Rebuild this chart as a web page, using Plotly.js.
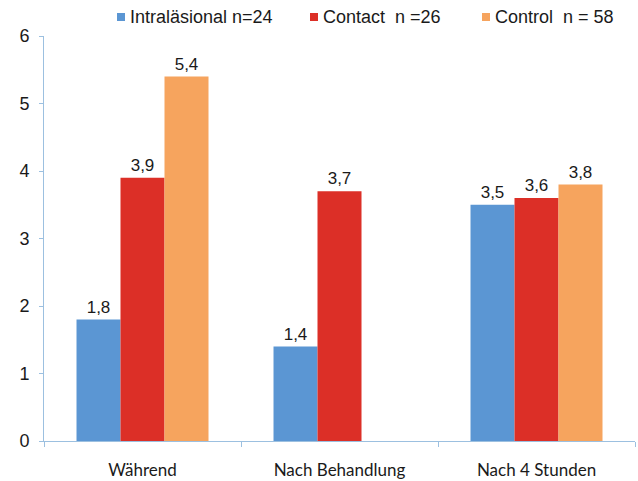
<!DOCTYPE html>
<html>
<head>
<meta charset="utf-8">
<script src="https://cdn.plot.ly/plotly-3.0.1.min.js"></script>
<style>html,body{margin:0;padding:0;background:#fff;}#chart{width:638px;height:481px;}</style>
</head>
<body>
<div id="chart"></div>
<script>
var categories = ["Während", "Nach Behandlung", "Nach 4 Stunden"];
var seriesNames = ["Intraläsional n=24", "Contact  n =26", "Control  n = 58"];
var intralaesional = [1.8, 1.4, 3.5];
var contact = [3.9, 3.7, 3.6];
var control = [5.4, null, 3.8];
var yTicks = [0, 1, 2, 3, 4, 5, 6];

var colors = ["#5b96d3", "#dc2f27", "#f6a45e"];
var values = [intralaesional, contact, control];

var W = 638, H = 481;
var M = { l: 44, r: 3, t: 36, b: 40 };
var plotW = W - M.l - M.r, plotH = H - M.t - M.b;
function px2x(p) { return (p - M.l) / plotW; }
function py2y(p) { return (H - M.b - p) / plotH; }

var traces = values.map(function (v, i) {
  return {
    type: "bar",
    name: seriesNames[i],
    x: categories,
    y: v,
    marker: { color: colors[i], line: { width: 0 } },
    texttemplate: "%{y:.1f}",
    textposition: "outside",
    textfont: { family: "Liberation Sans, Arial, sans-serif", size: 17, color: "#1a1a1a" },
    cliponaxis: false,
    hoverinfo: "skip",
    showlegend: false
  };
});

// custom legend (small square markers like the original)
var legendSquareLeft = [117, 310, 482];
var legendCenterY = 17;
var shapes = [], annotations = [];
seriesNames.forEach(function (name, i) {
  var x0 = legendSquareLeft[i];
  shapes.push({
    type: "rect", xref: "paper", yref: "paper",
    x0: px2x(x0), x1: px2x(x0 + 8),
    y0: py2y(legendCenterY + 4), y1: py2y(legendCenterY - 4),
    fillcolor: colors[i], line: { width: 0 }
  });
  annotations.push({
    xref: "paper", yref: "paper",
    x: px2x(x0 + 11), y: py2y(legendCenterY),
    xanchor: "left", yanchor: "middle",
    text: name.replace(/  /g, "&nbsp; "),
    showarrow: false,
    font: { family: "Liberation Sans, Arial, sans-serif", size: 18, color: "#1a1a1a" }
  });
});

var layout = {
  width: W,
  height: H,
  margin: M,
  paper_bgcolor: "#fff",
  plot_bgcolor: "#fff",
  separators: ",.",
  barmode: "group",
  bargap: 0.33,
  bargroupgap: 0,
  showlegend: false,
  shapes: shapes,
  annotations: annotations,
  xaxis: {
    type: "category",
    showline: true,
    linecolor: "#9cc0e0",
    linewidth: 1,
    ticks: "outside",
    tickson: "boundaries",
    ticklen: 5,
    tickcolor: "#9cc0e0",
    showgrid: false,
    ticklabelstandoff: 14,
    tickfont: { family: "Lato, Open Sans, sans-serif", size: 17, color: "#1a1a1a" }
  },
  yaxis: {
    range: [0, 6],
    tickvals: yTicks,
    showline: true,
    linecolor: "#9cc0e0",
    linewidth: 1,
    ticks: "outside",
    ticklen: 4,
    tickcolor: "#9cc0e0",
    showgrid: false,
    zeroline: false,
    ticklabelstandoff: 6,
    tickfont: { family: "Liberation Sans, Arial, sans-serif", size: 18, color: "#1a1a1a" }
  }
};

Plotly.newPlot("chart", traces, layout, { displayModeBar: false, staticPlot: true });
</script>
</body>
</html>
